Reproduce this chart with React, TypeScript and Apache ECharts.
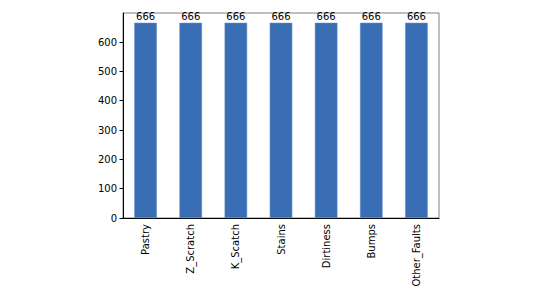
import React, { useEffect, useRef } from "react";
import * as echarts from "echarts";

const categories = ["Pastry", "Z_Scratch", "K_Scatch", "Stains", "Dirtiness", "Bumps", "Other_Faults"];
const counts = [666, 666, 666, 666, 666, 666, 666];

export default function App() {
  const ref = useRef<HTMLDivElement>(null);
  useEffect(() => {
    const chart = echarts.init(ref.current!, null, { renderer: "svg" });
    const font = "DejaVu Sans";
    chart.setOption({
      animation: false,
      textStyle: { fontFamily: font },
      grid: {
        left: 123,
        right: 108,
        top: 13,
        bottom: 77,
        show: true,
        borderColor: "#808080",
        borderWidth: 1,
        backgroundColor: "transparent",
      },
      xAxis: {
        type: "category",
        data: categories,
        boundaryGap: true,
        axisLine: { lineStyle: { color: "#000", width: 1 } },
        axisTick: { alignWithLabel: true, length: 3.5, lineStyle: { color: "#000" } },
        axisLabel: { rotate: 90, fontSize: 10, color: "#000", fontFamily: font, margin: 6, interval: 0 },
        splitLine: { show: false },
      },
      yAxis: {
        type: "value",
        min: 0,
        max: 699.3,
        interval: 100,
        axisLine: { show: true, lineStyle: { color: "#000", width: 1 } },
        axisTick: { show: true, length: 3.5, lineStyle: { color: "#000" } },
        axisLabel: {
          fontSize: 10,
          color: "#000",
          fontFamily: font,
          margin: 6,
          showMaxLabel: false,
          formatter: (v: number) => (v % 100 === 0 ? String(v) : ""),
        },
        splitLine: { show: false },
      },
      series: [
        {
          type: "bar",
          data: counts,
          barWidth: "50%",
          itemStyle: { color: "#3a6eb4", borderColor: "#6d93c8", borderWidth: 0.5 },
          label: {
            show: true,
            position: "top",
            distance: 1,
            fontSize: 10,
            color: "#000",
            fontFamily: font,
          },
        },
      ],
    });
    return () => chart.dispose();
  }, []);
  return (
    <div
      ref={ref}
      style={{ position: "fixed", left: 0, top: 0, width: 547, height: 295, background: "#fff" }}
    />
  );
}
